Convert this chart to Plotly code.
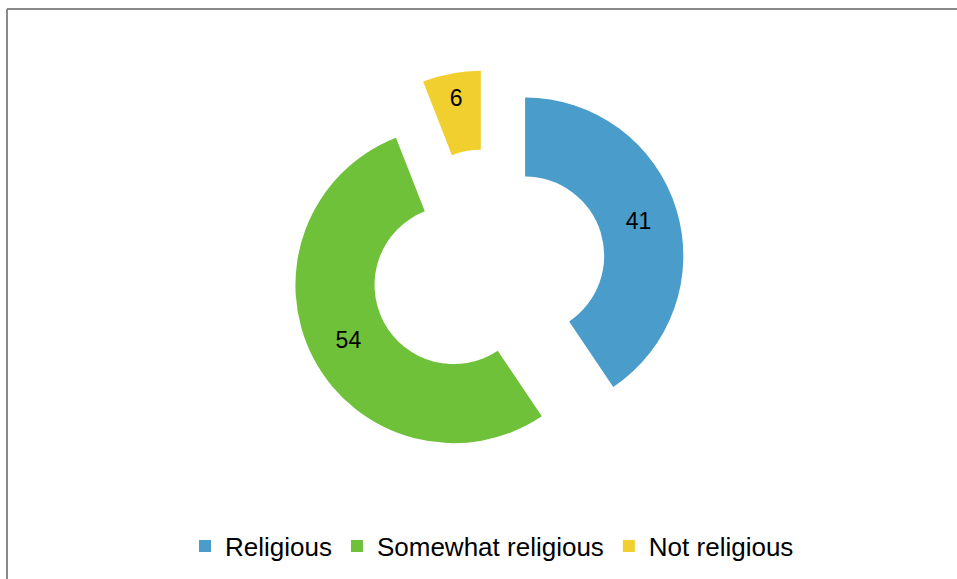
import plotly.graph_objects as go

W, H = 957, 579

# Share of respondents by religiosity
categories = ["Religious", "Somewhat religious", "Not religious"]
values = [41, 54, 6]
colors = ["#4A9CCB", "#70C13A", "#F0CF2E"]

fig = go.Figure(
    go.Pie(
        labels=categories,
        values=values,
        sort=False,
        direction="clockwise",
        rotation=0,
        hole=0.5,
        pull=[0.245, 0.245, 0.245],
        marker=dict(colors=colors, line=dict(width=0)),
        textinfo="value",
        textposition="inside",
        insidetextorientation="horizontal",
        textfont=dict(family="Liberation Sans, Arial, sans-serif", size=23, color="#000000"),
        hoverinfo="label+value",
        domain=dict(x=[(488 - 300) / W, (488 + 300) / W], y=[1 - 464 / H, 1 - 70 / H]),
    )
)

# chart frame: top and left edges
frame = dict(type="line", xref="paper", yref="paper", line=dict(color="#8a8a8a", width=2))
fig.add_shape(x0=7 / W, x1=1, y0=1 - 9 / H, y1=1 - 9 / H, **frame)
fig.add_shape(x0=7 / W, x1=7 / W, y0=0, y1=1 - 9 / H, **frame)

fig.update_layout(
    width=W,
    height=H,
    margin=dict(l=0, r=0, t=0, b=0),
    paper_bgcolor="#ffffff",
    plot_bgcolor="#ffffff",
    showlegend=True,
    legend=dict(
        orientation="h",
        x=492 / W,
        xanchor="center",
        y=1 - 546 / H,
        yanchor="middle",
        font=dict(family="Liberation Sans, Arial, sans-serif", size=26, color="#000000"),
        itemwidth=30,
        traceorder="normal",
    ),
)

fig.write_html("out.html")
